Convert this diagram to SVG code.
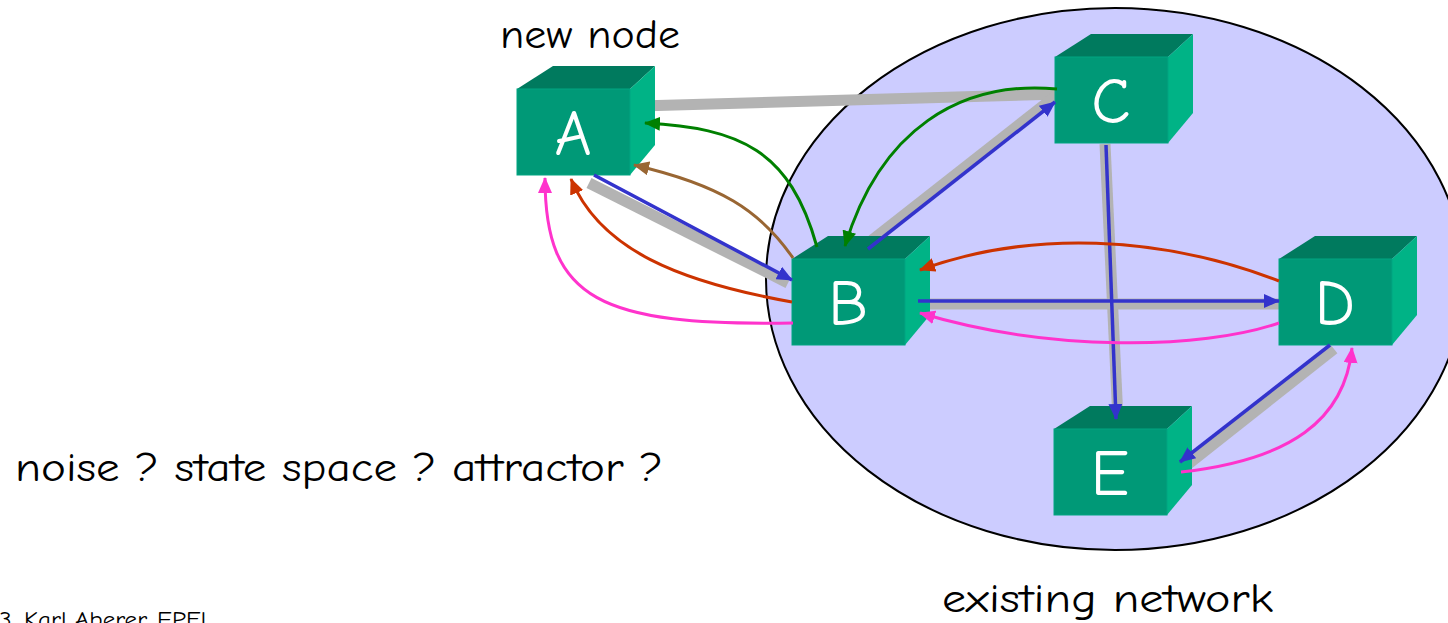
<svg xmlns="http://www.w3.org/2000/svg" xmlns:xlink="http://www.w3.org/1999/xlink" width="1448" height="623" viewBox="0 0 1448 623">
<style>
.lbl{font-family:"Comic Sans MS","Comic Neue","DejaVu Sans",sans-serif;font-size:40px;fill:#000}
.letter{font-family:"Comic Sans MS","Comic Neue","DejaVu Sans",sans-serif;font-size:64px;fill:#fff;text-anchor:middle}
.back{stroke:#b3b3b3;stroke-width:11;fill:none}
.ln{fill:none;stroke-width:3}
.blue{stroke:#3333cc;stroke-width:3.5}
.green{stroke:#008000}
.brown{stroke:#996633}
.red{stroke:#cc3300}
.pink{stroke:#ff33cc}
</style>
<defs>
<marker id="ah-blue" viewBox="0 0 16 14" refX="15" refY="7" markerWidth="16" markerHeight="14" markerUnits="userSpaceOnUse" orient="auto"><path d="M0,0 L16,7 L0,14 z" fill="#3333cc"/></marker>
<marker id="ah-green" viewBox="0 0 16 14" refX="15" refY="7" markerWidth="16" markerHeight="14" markerUnits="userSpaceOnUse" orient="auto"><path d="M0,0 L16,7 L0,14 z" fill="#008000"/></marker>
<marker id="ah-brown" viewBox="0 0 16 14" refX="15" refY="7" markerWidth="16" markerHeight="14" markerUnits="userSpaceOnUse" orient="auto"><path d="M0,0 L16,7 L0,14 z" fill="#996633"/></marker>
<marker id="ah-red" viewBox="0 0 16 14" refX="15" refY="7" markerWidth="16" markerHeight="14" markerUnits="userSpaceOnUse" orient="auto"><path d="M0,0 L16,7 L0,14 z" fill="#cc3300"/></marker>
<marker id="ah-pink" viewBox="0 0 16 14" refX="15" refY="7" markerWidth="16" markerHeight="14" markerUnits="userSpaceOnUse" orient="auto"><path d="M0,0 L16,7 L0,14 z" fill="#ff33cc"/></marker>
<g id="cube">
<polygon points="0,23 36,0 138,0 113,23" fill="#007a5e"/>
<polygon points="113,23 138,0 138,79 113,109" fill="#00b386"/>
<rect x="0" y="23" width="113" height="86" fill="#009977" stroke="#00a582" stroke-width="1"/>
</g>
</defs>
<rect width="1448" height="623" fill="#fff"/>
<ellipse id="network" cx="1115" cy="279" rx="349" ry="271" fill="#ccccff" stroke="#000" stroke-width="2"/>

<g id="links-back">
<path class="back" d="M640,106 L1060,94" stroke-width="13"/>
<path class="back" d="M589,183 L788,283"/>
<path class="back" d="M872,240 L1058,94"/>
<path class="back" d="M905,304 L1279,304"/>
<path class="back" d="M1105,144 L1118,420"/>
<path class="back" d="M1334,349 L1186,466"/>
</g>

<g id="node-A" transform="translate(517,66)"><use href="#cube"/><text class="letter" x="56" y="89">A</text></g>
<g id="node-B" transform="translate(792,236)"><use href="#cube"/><text class="letter" x="56" y="89">B</text></g>
<g id="node-C" transform="translate(1055,34)"><use href="#cube"/><text class="letter" x="56" y="89">C</text></g>
<g id="node-D" transform="translate(1279,236)"><use href="#cube"/><text class="letter" x="56" y="89">D</text></g>
<g id="node-E" transform="translate(1054,406)"><use href="#cube"/><text class="letter" x="56" y="89">E</text></g>

<g id="connectors">
<path class="ln blue" d="M594,175 L792,280" marker-end="url(#ah-blue)"/>
<path class="ln blue" d="M868,249 L1055,102" marker-end="url(#ah-blue)"/>
<path class="ln blue" d="M918,301 L1279,301" marker-end="url(#ah-blue)"/>
<path class="ln blue" d="M1106,145 L1116,419" marker-end="url(#ah-blue)"/>
<path class="ln blue" d="M1330,345 L1180,462" marker-end="url(#ah-blue)"/>
<path class="ln green" d="M1057,89 C960,80 880,130 845,246" marker-end="url(#ah-green)"/>
<path class="ln green" d="M817,247 C790,150 740,128 645,123" marker-end="url(#ah-green)"/>
<path class="ln brown" d="M793,258 C760,210 720,185 634,165" marker-end="url(#ah-brown)"/>
<path class="ln red" d="M792,302 C680,282 600,250 571,179" marker-end="url(#ah-red)"/>
<path class="ln pink" d="M793,323 C600,326 545,300 545,178" marker-end="url(#ah-pink)"/>
<path class="ln red" d="M1279,281 C1160,235 1030,230 920,270" marker-end="url(#ah-red)"/>
<path class="ln pink" d="M1279,323 C1200,350 1050,352 920,313" marker-end="url(#ah-pink)"/>
<path class="ln pink" d="M1181,472 C1290,460 1345,420 1352,348" marker-end="url(#ah-pink)"/>
</g>

<text class="lbl" x="500" y="48" textLength="180" lengthAdjust="spacingAndGlyphs">new node</text>
<text class="lbl" x="15" y="481" textLength="648" lengthAdjust="spacingAndGlyphs">noise ? state space ? attractor ?</text>
<text class="lbl" x="942" y="612" textLength="331" lengthAdjust="spacingAndGlyphs">existing network</text>
<text class="lbl" x="-1" y="627" style="font-size:22px" textLength="214" lengthAdjust="spacingAndGlyphs">3, Karl Aberer, EPFL</text>
</svg>
